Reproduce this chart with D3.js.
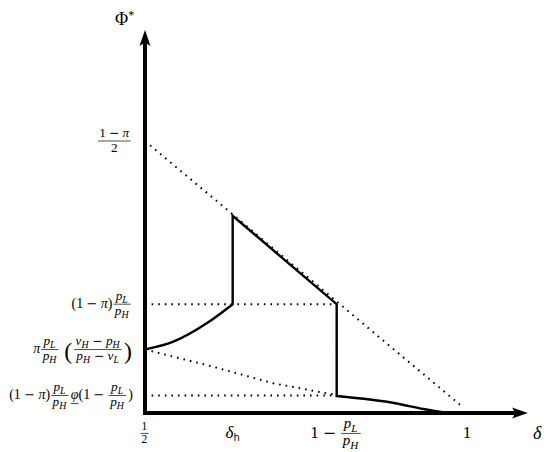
<!DOCTYPE html>
<html>
<head>
<meta charset="utf-8">
<title>Phi* against delta</title>
<style>
  body { margin: 0; background: #fff; }
  text { font-family: "Liberation Serif", "DejaVu Serif", serif; fill: #000; }
</style>
</head>
<body>
<script src="https://cdn.jsdelivr.net/npm/d3@7/dist/d3.min.js"></script>
<script>
// values: delta on the x axis, Phi* on the y axis
var deltaTicks = [0.5, 0.6353, 0.7958, 1];
var phiTicks = [0.3, 0.12, 0.07, 0.0193];

// solid curve, in three pieces (curved, straight, curved)
var leftDelta = [0.5, 0.5437, 0.5952, 0.6353];
var leftPhi   = [0.07, 0.0786, 0.0989, 0.12];
var midDelta  = [0.6353, 0.6353, 0.7958, 0.7958];
var midPhi    = [0.12, 0.2175, 0.12, 0.0187];
var rightDelta = [0.7958, 0.8884, 0.9295, 0.966];
var rightPhi   = [0.0187, 0.0105, 0.0044, 0];

// dotted guides
var diagDelta = [0.5, 0.992];
var diagPhi   = [0.3, 0.0055];
var upperDelta = [0.5, 0.7958];
var upperPhi   = [0.12, 0.12];
var lowerDelta = [0.5, 0.79];
var lowerPhi   = [0.0193, 0.0193];
var slopeDelta = [0.5, 0.5952, 0.698, 0.7804, 0.79];
var slopePhi   = [0.07, 0.0529, 0.0328, 0.0217, 0.0205];

var width = 550, height = 452;
var deltaMax = 1.091, phiMax = 0.4224;

var x = d3.scaleLinear().domain([0.5, 1]).range([145, 469]);
var y = d3.scaleLinear().domain([0, 0.3]).range([413, 141]);

var svg = d3.select("body").append("svg")
    .attr("width", width)
    .attr("height", height);

function pts(ds, ps) { return ds.map(function(d, i) { return [x(d), y(ps[i])]; }); }

var lineLin = d3.line();
var lineCurve = d3.line().curve(d3.curveMonotoneX);

// dotted guides
[[diagDelta, diagPhi], [upperDelta, upperPhi], [lowerDelta, lowerPhi], [slopeDelta, slopePhi]]
  .forEach(function(s) {
    svg.append("path")
        .attr("d", lineLin(pts(s[0], s[1])))
        .attr("fill", "none")
        .attr("stroke", "#000")
        .attr("stroke-width", 2)
        .attr("stroke-dasharray", "1.6 5");
  });

// solid curve as one path
var solidD = lineCurve(pts(leftDelta, leftPhi)) +
    lineLin(pts(midDelta, midPhi)).replace(/^M/, "L") +
    lineCurve(pts(rightDelta, rightPhi)).replace(/^M/, "L");
svg.append("path")
    .attr("d", solidD)
    .attr("fill", "none")
    .attr("stroke", "#000")
    .attr("stroke-width", 2.4)
    .attr("stroke-linejoin", "miter");

// axes with arrowheads
var x0 = x(0.5), y0 = y(0);
var yTop = y(phiMax), xEnd = x(deltaMax);
svg.append("path")
    .attr("d", "M" + x0 + "," + (y0 + 2) + "V" + (yTop + 12) + "M" + (x0 - 2) + "," + y0 + "H" + (xEnd - 12))
    .attr("stroke", "#000")
    .attr("stroke-width", 4)
    .attr("fill", "none");
svg.append("path")
    .attr("d", "M" + x0 + "," + yTop + "L" + (x0 - 5.5) + "," + (yTop + 16) +
        "Q" + x0 + "," + (yTop + 11) + " " + (x0 + 5.5) + "," + (yTop + 16) + "Z")
    .attr("fill", "#000");
svg.append("path")
    .attr("d", "M" + xEnd + "," + y0 + "L" + (xEnd - 16) + "," + (y0 - 5.5) +
        "Q" + (xEnd - 11) + "," + y0 + " " + (xEnd - 16) + "," + (y0 + 5.5) + "Z")
    .attr("fill", "#000");

// ---- small math typesetter ----
var AXIS = 0.27, SUB = 0.74;

function glyph(g, px, py, c, size, ital, fam) {
  var t = g.append("text")
      .attr("x", px).attr("y", py)
      .attr("font-size", size)
      .attr("font-style", ital ? "italic" : "normal")
      .text(c);
  if (fam) t.style("font-family", fam);
  return t.node().getComputedTextLength();
}

function typeString(g, px, py, str, size) {
  var cx = px;
  for (var i = 0; i < str.length; i++) {
    var c = str[i];
    if (c === "_") {
      cx += glyph(g, cx, py + size * 0.22, str[++i], size * SUB, true) + size * 0.05;
      continue;
    }
    if (c === " ") { cx += size * 0.24; continue; }
    if (c === "−") { cx += glyph(g, cx, py, c, size * 0.93, false, "DejaVu Serif"); continue; }
    var under = false;
    if (c === "!") { under = true; c = str[++i]; }
    var ital = /[a-zA-Zπφδ]/.test(c);
    var w = glyph(g, cx, py, c, size, ital);
    if (under) {
      g.append("line")
          .attr("x1", cx).attr("x2", cx + w)
          .attr("y1", py + size * 0.3).attr("y2", py + size * 0.3)
          .attr("stroke", "#000").attr("stroke-width", 0.7);
    }
    cx += w;
  }
  return cx - px;
}

function typeFrac(g, px, fr, size, fsize) {
  var num = g.append("g"), den = g.append("g");
  var wn = typeString(num, 0, 0, fr.n, fsize);
  var wd = typeString(den, 0, 0, fr.d, fsize);
  var pad = fsize * 0.18;
  var w = Math.max(wn, wd) + 2 * pad;
  var ax = -size * AXIS;
  num.attr("transform", "translate(" + (px + (w - wn) / 2) + "," + (ax - fsize * 0.33) + ")");
  den.attr("transform", "translate(" + (px + (w - wd) / 2) + "," + (ax + fsize * 0.8) + ")");
  g.append("line")
      .attr("x1", px + 1).attr("x2", px + w - 1)
      .attr("y1", ax).attr("y2", ax)
      .attr("stroke", "#000").attr("stroke-width", 0.7);
  return w + fsize * 0.1;
}

function typeset(g, items, size, fsize) {
  var cx = 0;
  items.forEach(function(it) {
    if (typeof it === "string") cx += typeString(g, cx, 0, it, size);
    else if (it.big) {
      var t = g.append("text")
          .attr("x", cx).attr("y", size * 0.42)
          .attr("font-size", size * 1.7)
          .attr("font-weight", 300)
          .text(it.big);
      cx += t.node().getComputedTextLength() + 1;
    }
    else cx += typeFrac(g, cx, it, size, fsize);
  });
  return cx;
}

// y axis labels, right-aligned next to the axis
var yLabels = [
  [{n: "1 − π", d: "2"}],
  ["(1 − π)", {n: "p_L", d: "p_H"}],
  ["π", {n: "p_L", d: "p_H"}, " ", {big: "("}, {n: "v_H − p_H", d: "p_H − v_L"}, {big: ")"}],
  ["(1 − π)", {n: "p_L", d: "p_H"}, "!φ(1 − ", {n: "p_L", d: "p_H"}, ")"]
];
var ySize = 14, yFrac = 13.3;
yLabels.forEach(function(lab, i) {
  var g = svg.append("g");
  var w = typeset(g, lab, ySize, yFrac);
  g.attr("transform", "translate(" + (x0 - 12 - w) + "," + (y(phiTicks[i]) + ySize * AXIS) + ")");
});

// x axis labels
var xBase = 438, xSize = 17;
var xLabels = [
  [{n: "1", d: "2"}],
  null,
  ["1 − ", {n: "p_L", d: "p_H"}],
  ["1"]
];
xLabels.forEach(function(lab, i) {
  var g = svg.append("g");
  var w;
  if (lab === null) {
    w = glyph(g, 0, 0, "δ", xSize, true);
    w += glyph(g, w, 3, "h", 10, false, "DejaVu Sans");
    g.selectAll("text").filter(function(d, j) { return j === 1; }).attr("fill", "#444");
  } else if (i === 0) {
    w = typeset(g, lab, xSize, 11.5);
  } else {
    w = typeset(g, lab, xSize, 15);
  }
  g.attr("transform", "translate(" + (x(deltaTicks[i]) - w / 2 - (i === 3 ? 2 : 0)) + "," + xBase + ")");
});

// axis titles
svg.append("text")
    .attr("x", xEnd + 5).attr("y", xBase + 1)
    .attr("font-size", 18).attr("font-style", "italic")
    .text("δ");
var phiT = svg.append("text")
    .attr("x", 115).attr("y", 25)
    .attr("font-size", 18);
phiT.append("tspan").text("Φ");
phiT.append("tspan").attr("font-size", 12).attr("dy", -6).text("*");
</script>
</body>
</html>
